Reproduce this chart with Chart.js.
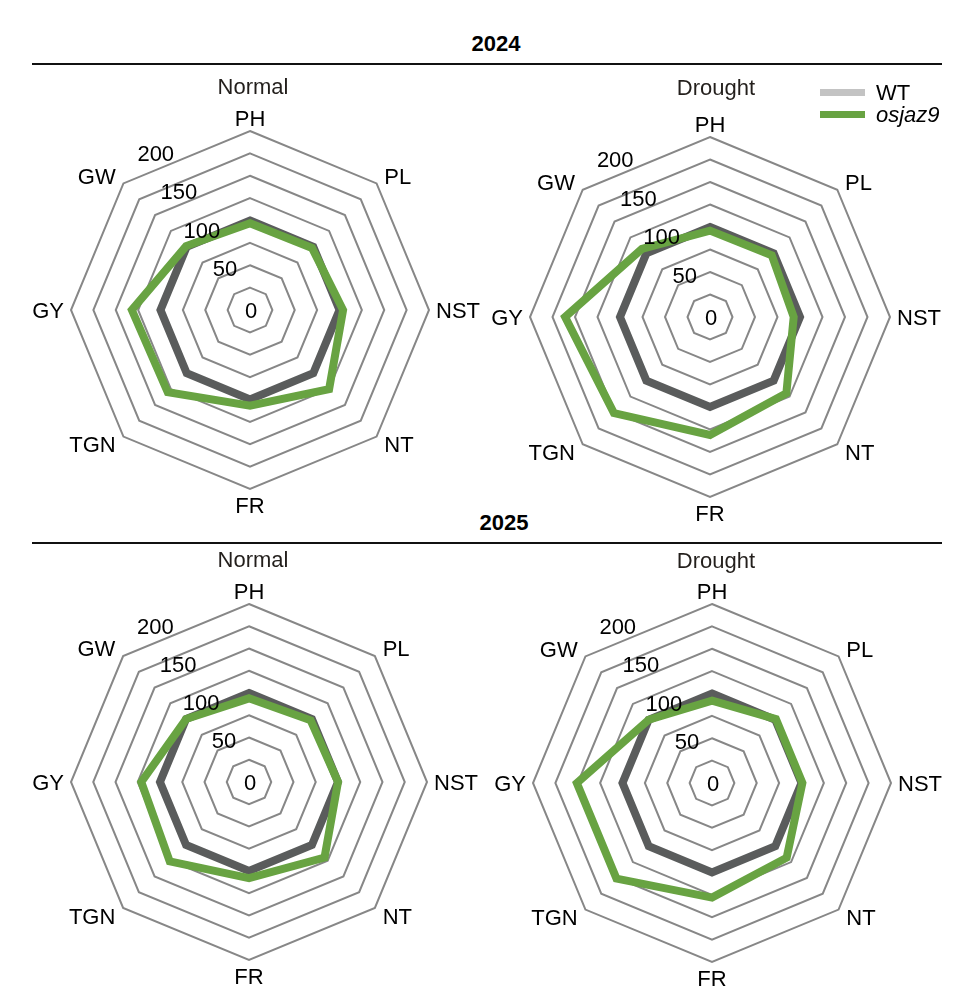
<!DOCTYPE html>
<html>
<head>
<meta charset="utf-8">
<title>osjaz9 radar</title>
<script src="https://cdn.jsdelivr.net/npm/chart.js@4.4.0/dist/chart.umd.min.js"></script>
<style>
  html, body { margin: 0; padding: 0; background: #fff; }
  #page { position: relative; width: 970px; height: 987px; font-family: 'Liberation Sans', Arial, sans-serif; }
  .year { position: absolute; font-weight: bold; font-size: 22px; color: #000; transform: translate(-50%, -50%); line-height: 1; }
  .rule { position: absolute; left: 32px; width: 910px; height: 2px; background: #111; }
  .panel { position: absolute; }
</style>
</head>
<body>
<div id="page">
  <div class="year" style="left:496px; top:44px;">2024</div>
  <div class="rule" style="top:63px;"></div>
  <div class="year" style="left:504px; top:523px;">2025</div>
  <div class="rule" style="top:542px;"></div>

  <canvas id="c1" class="panel" width="485" height="470" style="left:0; top:66px;"></canvas>
  <canvas id="c2" class="panel" width="485" height="470" style="left:485px; top:66px;"></canvas>
  <canvas id="c3" class="panel" width="485" height="441" style="left:0; top:546px;"></canvas>
  <canvas id="c4" class="panel" width="485" height="441" style="left:485px; top:546px;"></canvas>
</div>

<script>
// traits, clockwise from the top
const categories = ['PH', 'PL', 'NST', 'NT', 'FR', 'TGN', 'GY', 'GW'];
const tickLabels = [0, 50, 100, 150, 200];
const seriesNames = ['WT', 'osjaz9'];

// relative values (WT = 100)
const wtValues = [100, 100, 100, 100, 100, 100, 100, 100];
const osjaz9Normal2024 = [97, 98, 104, 125, 107, 130, 132, 101];
const osjaz9Drought2024 = [96, 97, 93, 120, 131, 151, 161, 107];
const osjaz9Normal2025 = [94, 98, 100, 120, 108, 126, 121, 100];
const osjaz9Drought2025 = [92, 101, 101, 118, 128, 151, 151, 100];

const FONT = "'Liberation Sans', Arial, sans-serif";
const FONT_SIZE = 22;
const lineColors = ['#5a5c5c', '#68a342'];
const legendColors = ['#c3c3c3', '#68a342'];

const panels = [
	{ id: 'c1', title: 'Normal', values: osjaz9Normal2024, cx: 250, cy: 244, r: 179, titleDx: 3, titleDy: -224, legend: false },
	{ id: 'c2', title: 'Drought', values: osjaz9Drought2024, cx: 225, cy: 251, r: 180, titleDx: 6, titleDy: -230, legend: true },
	{ id: 'c3', title: 'Normal', values: osjaz9Normal2025, cx: 249, cy: 236, r: 178, titleDx: 4, titleDy: -223, legend: false },
	{ id: 'c4', title: 'Drought', values: osjaz9Drought2025, cx: 227, cy: 237, r: 179, titleDx: 4, titleDy: -223, legend: false }
];

const radarText = {
	id: 'radarText',
	afterDraw(chart, args, opts) {
		const ctx = chart.ctx;
		const scale = chart.scales.r;
		const R = scale.drawingArea;
		const cx = scale.xCenter;
		const cy = scale.yCenter;
		const capHalf = 0.716 * FONT_SIZE / 2;

		ctx.save();
		ctx.font = `${FONT_SIZE}px ${FONT}`;
		ctx.fillStyle = '#000';
		ctx.textBaseline = 'alphabetic';

		// trait names round the outer ring
		chart.data.labels.forEach((label, i) => {
			const diagonal = i % 2 === 1;
			const p0 = scale.getPointPosition(i, R);
			const dx = p0.x - cx;
			const dy = p0.y - cy;
			let pad = diagonal ? 11 : 7;
			if (!diagonal && dy < -1) pad = 5;
			if (!diagonal && dy > 1) pad = 8;
			const p = scale.getPointPosition(i, R + pad);
			let y = p.y + capHalf;
			if (Math.abs(dx) < 1) {
				ctx.textAlign = 'center';
				y = dy < 0 ? p.y : p.y + 2 * capHalf;
			} else {
				ctx.textAlign = dx > 0 ? 'left' : 'right';
			}
			ctx.fillText(label, p.x, y);
		});

		// value labels along a line left of the top axis
		const ang = 31 * Math.PI / 180;
		ctx.textAlign = 'center';
		opts.ticks.forEach(v => {
			const d = scale.getDistanceFromCenterForValue(v) + (v === 0 ? 0 : 4);
			const x = cx - d * Math.sin(ang) + (v === 0 ? 1 : 0);
			const y = cy - d * Math.cos(ang);
			ctx.fillText(String(v), x, y + capHalf);
		});

		// panel subtitle
		ctx.fillStyle = '#231f1c';
		ctx.fillText(opts.title, cx + opts.titleDx, cy + opts.titleDy + capHalf);

		// legend
		if (opts.legend) {
			chart.data.datasets.forEach((ds, i) => {
				const top = 23 + i * 22;
				ctx.fillStyle = legendColors[i];
				ctx.fillRect(335, top, 45, 7);
				ctx.fillStyle = '#000';
				ctx.textAlign = 'left';
				ctx.font = (ds.label === 'osjaz9' ? 'italic ' : '') + `${FONT_SIZE}px ${FONT}`;
				ctx.fillText(ds.label, 391, top + 3.5 + capHalf);
			});
		}
		ctx.restore();
	}
};

panels.forEach(panel => {
	const canvas = document.getElementById(panel.id);
	new Chart(canvas, {
		type: 'radar',
		data: {
			labels: categories,
			datasets: [
				{ label: seriesNames[0], data: wtValues, borderColor: lineColors[0], order: 1 },
				{ label: seriesNames[1], data: panel.values, borderColor: lineColors[1], order: 0 }
			]
		},
		options: {
			responsive: false,
			animation: false,
			events: [],
			layout: { padding: 0 },
			elements: {
				line: { borderWidth: 8, fill: false, tension: 0, borderJoinStyle: 'miter' },
				point: { radius: 0, hitRadius: 0, hoverRadius: 0 }
			},
			scales: {
				r: {
					min: 0,
					max: 200,
					ticks: { stepSize: 25, display: false },
					grid: { circular: false, color: '#878787', lineWidth: 2 },
					angleLines: { display: false },
					pointLabels: { display: false },
					afterFit: scale => {
						scale.xCenter = panel.cx;
						scale.yCenter = panel.cy;
						scale.drawingArea = panel.r;
					}
				}
			},
			plugins: {
				legend: { display: false },
				tooltip: { enabled: false },
				radarText: {
					title: panel.title,
					titleDx: panel.titleDx,
					titleDy: panel.titleDy,
					legend: panel.legend,
					ticks: tickLabels
				}
			}
		},
		plugins: [radarText]
	});
});
</script>
</body>
</html>
